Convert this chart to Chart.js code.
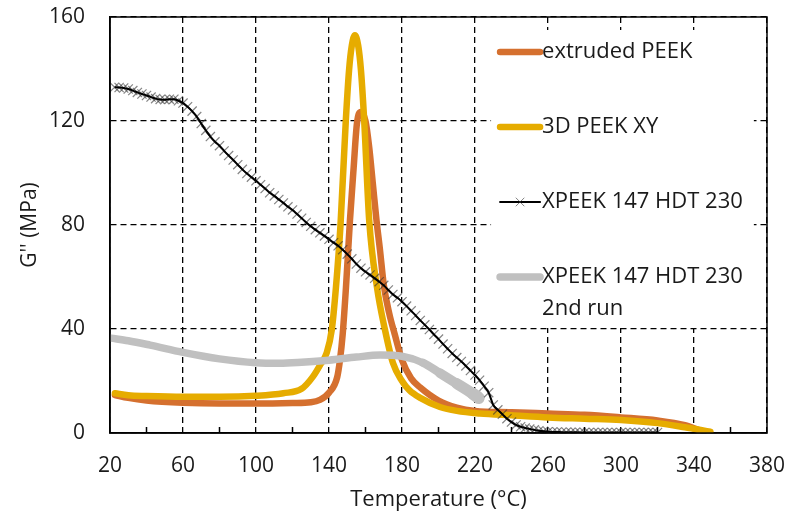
<!DOCTYPE html>
<html>
<head>
<meta charset="utf-8">
<script src="https://cdn.jsdelivr.net/npm/chart.js"></script>
<style>
  body { margin: 0; background: #fff; }
  #wrap { width: 792px; height: 515px; }
</style>
</head>
<body>
<div id="wrap"><canvas id="gChart"></canvas></div>
<script>
// values: temperature (°C) and G'' (MPa)
const extrudedT = [22.7, 30, 40, 60, 80, 100, 120, 130, 135, 140, 144.5, 146, 147.5, 149.3, 151.5, 153.5, 155.3, 157.5, 160, 162, 164, 166, 168, 170, 173, 176, 180, 185, 190, 200, 210, 220, 240, 260, 280, 300, 320, 335, 343];
const extrudedG = [14.6, 13.5, 12.5, 11.6, 11.3, 11.3, 11.5, 11.8, 12.7, 15.5, 21.5, 28, 38, 56, 82, 102, 119, 123.5, 120, 110, 96, 82, 70, 57, 46, 38, 28, 21, 17.5, 12.5, 9.8, 8.5, 8, 7.5, 7, 6, 4.8, 3, 1];

const print3dT = [22.7, 30, 40, 60, 80, 100, 115, 125, 131, 135, 138.7, 141.5, 143.8, 146.3, 149.2, 151, 152.5, 154.2, 156, 157.5, 159.3, 162, 166.3, 170.7, 175, 180, 184, 190, 200.8, 210, 222.7, 240, 260, 280, 300, 320, 335, 349];
const print3dG = [15.3, 14.5, 14.2, 13.9, 13.9, 14.3, 15.3, 17, 21.5, 26, 30.8, 39.6, 56, 80, 120, 139.6, 149, 153, 149, 139.6, 120, 82, 56, 39.6, 27, 20, 16.5, 13.5, 10, 8.5, 7.5, 6.8, 6, 5.5, 5, 3.8, 2.2, 0.5];

const xpeekT = [
  22.5, 25, 27.5, 30, 32.5, 35, 37.5, 40, 42.5, 45, 47.5, 50, 52.5, 55, 57.5, 60,
  62.5, 65, 67.5, 70, 72.5, 75, 77.5, 80, 82.5, 85, 87.5, 90, 92.5, 95, 97.5, 100,
  102.5, 105, 107.5, 110, 112.5, 115, 117.5, 120, 122.5, 125, 127.5, 130, 132.5, 135, 137.5, 140,
  142.5, 145, 147.5, 150, 152.5, 155, 157.5, 160, 162.5, 165, 167.5, 170, 172.5, 175, 177.5, 180,
  182.5, 185, 187.5, 190, 192.5, 195, 197.5, 200, 202.5, 205, 207.5, 210, 212.5, 215, 217.5, 220,
  222.5, 225, 227.5, 230, 232.5, 235, 237.5, 240, 242.5, 245, 247.5, 250, 252.5, 255, 257.5, 260,
  262.5, 265, 267.5, 270, 272.5, 275, 277.5, 280, 282.5, 285, 287.5, 290, 292.5, 295, 297.5, 300,
  302.5, 305, 307.5, 310, 312.5, 315, 317.5, 320
];
const xpeekG = [
  133, 132.9, 132.7, 132.3, 131.7, 131, 130.4, 129.8, 129.2, 128.6, 128.3, 128.2, 128.4, 128.4, 127.8, 126.9,
  125.5, 123.8, 121.7, 119, 116.4, 114, 112, 110.5, 108.5, 106.7, 105, 103.2, 101.4, 99.8, 98.4, 97,
  95.5, 94, 92.4, 91.2, 89.8, 88.5, 87, 85.8, 84.2, 82.6, 81, 79.5, 78.2, 77, 75.8, 74.5,
  73.2, 72, 70.5, 68.8, 67, 65, 63.4, 62, 60.8, 59.5, 58.2, 56.8, 55, 53.3, 52, 50.5,
  48.8, 47, 45.2, 43.3, 41.6, 39.8, 37.9, 36.1, 34.2, 32.4, 30.6, 29, 27.5, 25.8, 24, 22.3,
  20.3, 18, 15.5, 10.8, 8.9, 7.2, 5.5, 4.2, 3.1, 2.4, 1.9, 1.5, 1.2, 0.9, 0.7, 0.5,
  0.4, 0.4, 0.3, 0.3, 0.3, 0.3, 0.2, 0.2, 0.2, 0.2, 0.2, 0.2, 0.2, 0.2, 0.2, 0.2,
  0.2, 0.2, 0.2, 0.2, 0.2, 0.2, 0.2, 0.2
];

const rerunT = [20.5, 30, 42, 60, 80, 100, 113, 125, 140, 155, 168, 180, 191.5, 200.8, 210, 219, 222];
const rerunG = [36.5, 35.5, 33.8, 31, 28.5, 27, 26.8, 27.2, 28, 29.2, 30, 29.5, 27, 23, 19, 15, 13.5];

const xTicks = [20, 60, 100, 140, 180, 220, 260, 300, 340, 380];
const yTicks = [0, 40, 80, 120, 160];

const labels = ['extruded PEEK', '3D PEEK XY', 'XPEEK 147 HDT 230', 'XPEEK 147 HDT 230\n2nd run'];

function pts(xs, ys) {
  return xs.map((x, i) => ({ x: x, y: ys[i] }));
}

const orange = '#D5702F';
const gold = '#E6AC00';
const grey = '#C0C0C0';
const markGrey = 'rgba(50,50,50,0.6)';
const font = 'Open Sans';

// draws legend box, plot frame and the small ticks between labels
const framePlugin = {
  id: 'frame',
  beforeDatasetsDraw(chart) {
    const { ctx, chartArea: a } = chart;
    const w = a.right - a.left;
    ctx.save();
    ctx.fillStyle = '#fff';
    ctx.fillRect(a.left + w * 0.58, a.top + 13, w * 0.40, 298);
    ctx.restore();
  },
  afterDraw(chart) {
    const { ctx, chartArea: a } = chart;
    const xs = chart.scales.x;
    ctx.save();
    ctx.strokeStyle = '#000';
    ctx.lineWidth = 1.5;
    ctx.strokeRect(a.left, a.top, a.right - a.left, a.bottom - a.top);
    // minor ticks halfway between labelled ticks
    ctx.beginPath();
    for (let i = 0; i < xTicks.length - 1; i++) {
      const px = xs.getPixelForValue((xTicks[i] + xTicks[i + 1]) / 2);
      ctx.moveTo(px, a.bottom);
      ctx.lineTo(px, a.bottom - 6);
    }
    ctx.stroke();

    // legend
    const w = a.right - a.left;
    const lx = a.left + w * 0.58 + 9;
    let ly = a.top + 35;
    ctx.font = '22px "' + font + '"';
    ctx.textBaseline = 'middle';
    ctx.fillStyle = '#1a1a1a';
    chart.data.datasets.forEach(ds => {
      if (ds.hideInLegend) return;
      ctx.save();
      ctx.lineCap = 'round';
      ctx.strokeStyle = ds.borderColor;
      ctx.lineWidth = ds.borderWidth;
      ctx.beginPath();
      ctx.moveTo(lx, ly);
      ctx.lineTo(lx + 40, ly);
      ctx.stroke();
      if (ds.legendMark) {
        ctx.strokeStyle = markGrey;
        ctx.lineWidth = 1;
        ctx.beginPath();
        ctx.moveTo(lx + 16, ly - 4); ctx.lineTo(lx + 24, ly + 4);
        ctx.moveTo(lx + 24, ly - 4); ctx.lineTo(lx + 16, ly + 4);
        ctx.stroke();
      }
      ctx.restore();
      ds.label.split('\n').forEach((line, k) => {
        ctx.fillText(line, lx + 42, ly + k * 32);
      });
      ly += 75;
    });
    ctx.restore();
  }
};

new Chart(document.getElementById('gChart'), {
  type: 'line',
  data: {
    datasets: [
      {
        label: labels[0],
        data: pts(extrudedT, extrudedG),
        borderColor: orange,
        borderWidth: 6.5,
        pointRadius: 0,
        cubicInterpolationMode: 'monotone',
        borderCapStyle: 'round',
        order: 5
      },
      {
        label: labels[1],
        data: pts(print3dT, print3dG),
        borderColor: gold,
        borderWidth: 6.5,
        pointRadius: 0,
        cubicInterpolationMode: 'monotone',
        borderCapStyle: 'round',
        order: 4
      },
      {
        label: labels[2],
        data: pts(xpeekT, xpeekG),
        borderColor: '#000',
        borderWidth: 2,
        pointRadius: 0,
        cubicInterpolationMode: 'monotone',
        legendMark: true,
        order: 0
      },
      {
        label: labels[3],
        data: pts(rerunT, rerunG),
        borderColor: grey,
        borderWidth: 7.5,
        pointRadius: 0,
        cubicInterpolationMode: 'monotone',
        borderCapStyle: 'round',
        borderJoinStyle: 'round',
        // the noisy end of this run looks like a band that gets wider
        segment: {
          borderWidth: c => 7.5 + Math.max(0, c.p0.parsed.x - 185) * 0.14
        },
        order: 2
      },
      {
        // the x markers of the XPEEK series
        label: labels[2] + ' markers',
        data: pts(xpeekT, xpeekG),
        showLine: false,
        pointStyle: 'crossRot',
        pointRadius: 6.5,
        pointBorderWidth: 1.2,
        pointBorderColor: markGrey,
        hideInLegend: true,
        order: 1
      }
    ]
  },
  options: {
    responsive: true,
    maintainAspectRatio: false,
    animation: false,
    layout: { padding: { top: 17, right: 25, left: 17, bottom: 0 } },
    plugins: {
      legend: { display: false },
      tooltip: { enabled: false }
    },
    scales: {
      x: {
        type: 'linear',
        min: 20,
        max: 380,
        afterFit(scale) {
          scale.height = 82;
          scale.paddingLeft = 0;
          scale.paddingRight = 0;
        },
        afterBuildTicks(scale) { scale.ticks = xTicks.map(v => ({ value: v })); },
        ticks: { color: '#1a1a1a', font: { family: font, size: 21 }, padding: 20, maxRotation: 0 },
        grid: { color: '#000', lineWidth: 1.3, drawTicks: false },
        border: { color: '#000', width: 1.5, dash: [6, 4] },
        title: {
          display: true,
          text: 'Temperature (°C)',
          color: '#1a1a1a',
          font: { family: font, size: 22 },
          padding: { top: 0, bottom: 2 }
        }
      },
      y: {
        min: 0,
        max: 160,
        afterFit(scale) {
          scale.width = 93;
          scale.paddingTop = 0;
          scale.paddingBottom = 0;
        },
        afterBuildTicks(scale) { scale.ticks = yTicks.map(v => ({ value: v })); },
        ticks: { color: '#1a1a1a', font: { family: font, size: 21 }, padding: 25 },
        grid: { color: '#000', lineWidth: 1.3, drawTicks: false },
        border: { color: '#000', width: 1.5, dash: [6, 4] },
        title: {
          display: true,
          text: "G'' (MPa)",
          color: '#1a1a1a',
          font: { family: font, size: 21 },
          padding: 0
        }
      }
    }
  },
  plugins: [framePlugin]
});
</script>
</body>
</html>
